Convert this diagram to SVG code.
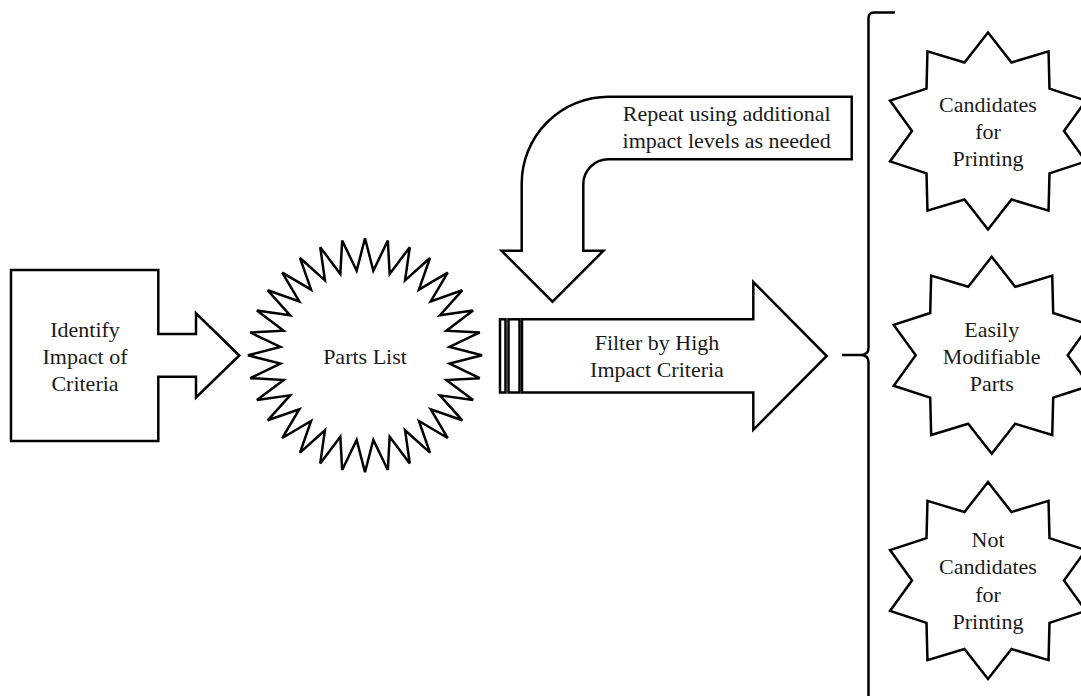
<svg xmlns="http://www.w3.org/2000/svg" xmlns:xlink="http://www.w3.org/1999/xlink" width="1081" height="696" viewBox="0 0 1081 696">
<style>
.s{fill:#fff;stroke:#000;stroke-width:2.5;stroke-linejoin:miter}
.b{fill:none;stroke:#000;stroke-width:2.5}
.t{font-family:"Liberation Serif","Times New Roman",serif;font-size:22px;fill:#1a1a1a;text-anchor:middle}
</style>
<defs>
<polygon id="star10" points="0,-98.5 23.49,-68.48 60.54,-79.69 61.49,-42.32 97.96,-30.44 76,0 97.96,30.44 61.49,42.32 60.54,79.69 23.49,68.48 0,98.5 -23.49,68.48 -60.54,79.69 -61.49,42.32 -97.96,30.44 -76,0 -97.96,-30.44 -61.49,-42.32 -60.54,-79.69 -23.49,-68.48"/>
</defs>
<rect width="1081" height="696" fill="#fff"/>
<g id="identify">
<path class="s" d="M11 270 L158.3 270 L158.3 334 L196 334 L196 313.3 L239.3 355.5 L196 397.5 L196 376.7 L158.3 376.7 L158.3 441 L11 441 Z"/>
<text class="t" x="85" y="337">Identify</text>
<text class="t" x="85" y="364">Impact of</text>
<text class="t" x="85" y="391">Criteria</text>
</g>
<g id="parts-list">
<polygon class="s" transform="translate(365,355.3)" points="0,-117 8.33,-84.59 22.83,-114.75 24.67,-81.34 44.77,-108.09 40.07,-74.96 65,-97.28 53.92,-65.71 82.73,-82.73 65.71,-53.92 97.28,-65 74.96,-40.07 108.09,-44.77 81.34,-24.67 114.75,-22.83 84.59,-8.33 117,0 84.59,8.33 114.75,22.83 81.34,24.67 108.09,44.77 74.96,40.07 97.28,65 65.71,53.92 82.73,82.73 53.92,65.71 65,97.28 40.07,74.96 44.77,108.09 24.67,81.34 22.83,114.75 8.33,84.59 0,117 -8.33,84.59 -22.83,114.75 -24.67,81.34 -44.77,108.09 -40.07,74.96 -65,97.28 -53.92,65.71 -82.73,82.73 -65.71,53.92 -97.28,65 -74.96,40.07 -108.09,44.77 -81.34,24.67 -114.75,22.83 -84.59,8.33 -117,0 -84.59,-8.33 -114.75,-22.83 -81.34,-24.67 -108.09,-44.77 -74.96,-40.07 -97.28,-65 -65.71,-53.92 -82.73,-82.73 -53.92,-65.71 -65,-97.28 -40.07,-74.96 -44.77,-108.09 -24.67,-81.34 -22.83,-114.75 -8.33,-84.59"/>
<text class="t" x="365" y="364">Parts List</text>
</g>
<g id="connectors">
<g id="filter-arrow">
<rect class="s" x="500" y="319.3" width="5.5" height="73.2"/>
<rect class="s" x="508.5" y="319.3" width="11" height="73.2"/>
<path class="s" d="M522 319.3 L753.3 319.3 L753.3 282 L826.7 356 L753.3 429.8 L753.3 392.5 L522 392.5 Z"/>
<text class="t" x="657" y="350">Filter by High</text>
<text class="t" x="657" y="377.3">Impact Criteria</text>
</g>
<g id="repeat-arrow">
<path class="s" d="M851.7 96.7 L608.5 96.7 A87 87 0 0 0 521.7 183.7 L521.7 250.7 L501.5 250.7 L552.5 301.7 L603.5 250.7 L583.3 250.7 L583.3 184.3 A25 25 0 0 1 608.3 159.3 L851.7 159.3 Z"/>
<text class="t" x="726.7" y="121">Repeat using additional</text>
<text class="t" x="726.7" y="148.3">impact levels as needed</text>
</g>
<path id="brace" class="b" d="M895 12.5 L874 12.5 Q868.5 12.5 868.5 18 L868.5 348 Q868.5 355 860 355 L842 355 M860 355 Q868.5 355 868.5 362 L868.5 700"/>
</g>
<g id="candidates">
<use href="#star10" class="s" transform="translate(988,131)"/>
<text class="t" x="988" y="111.7">Candidates</text>
<text class="t" x="988" y="139">for</text>
<text class="t" x="988" y="166">Printing</text>
</g>
<g id="modifiable">
<use href="#star10" class="s" transform="translate(991.7,355.3)"/>
<text class="t" x="991.7" y="337.3">Easily</text>
<text class="t" x="991.7" y="364">Modifiable</text>
<text class="t" x="991.7" y="390.7">Parts</text>
</g>
<g id="not-candidates">
<use href="#star10" class="s" transform="translate(988,580.5)"/>
<text class="t" x="988" y="547.3">Not</text>
<text class="t" x="988" y="574.3">Candidates</text>
<text class="t" x="988" y="601.7">for</text>
<text class="t" x="988" y="629">Printing</text>
</g>
</svg>
